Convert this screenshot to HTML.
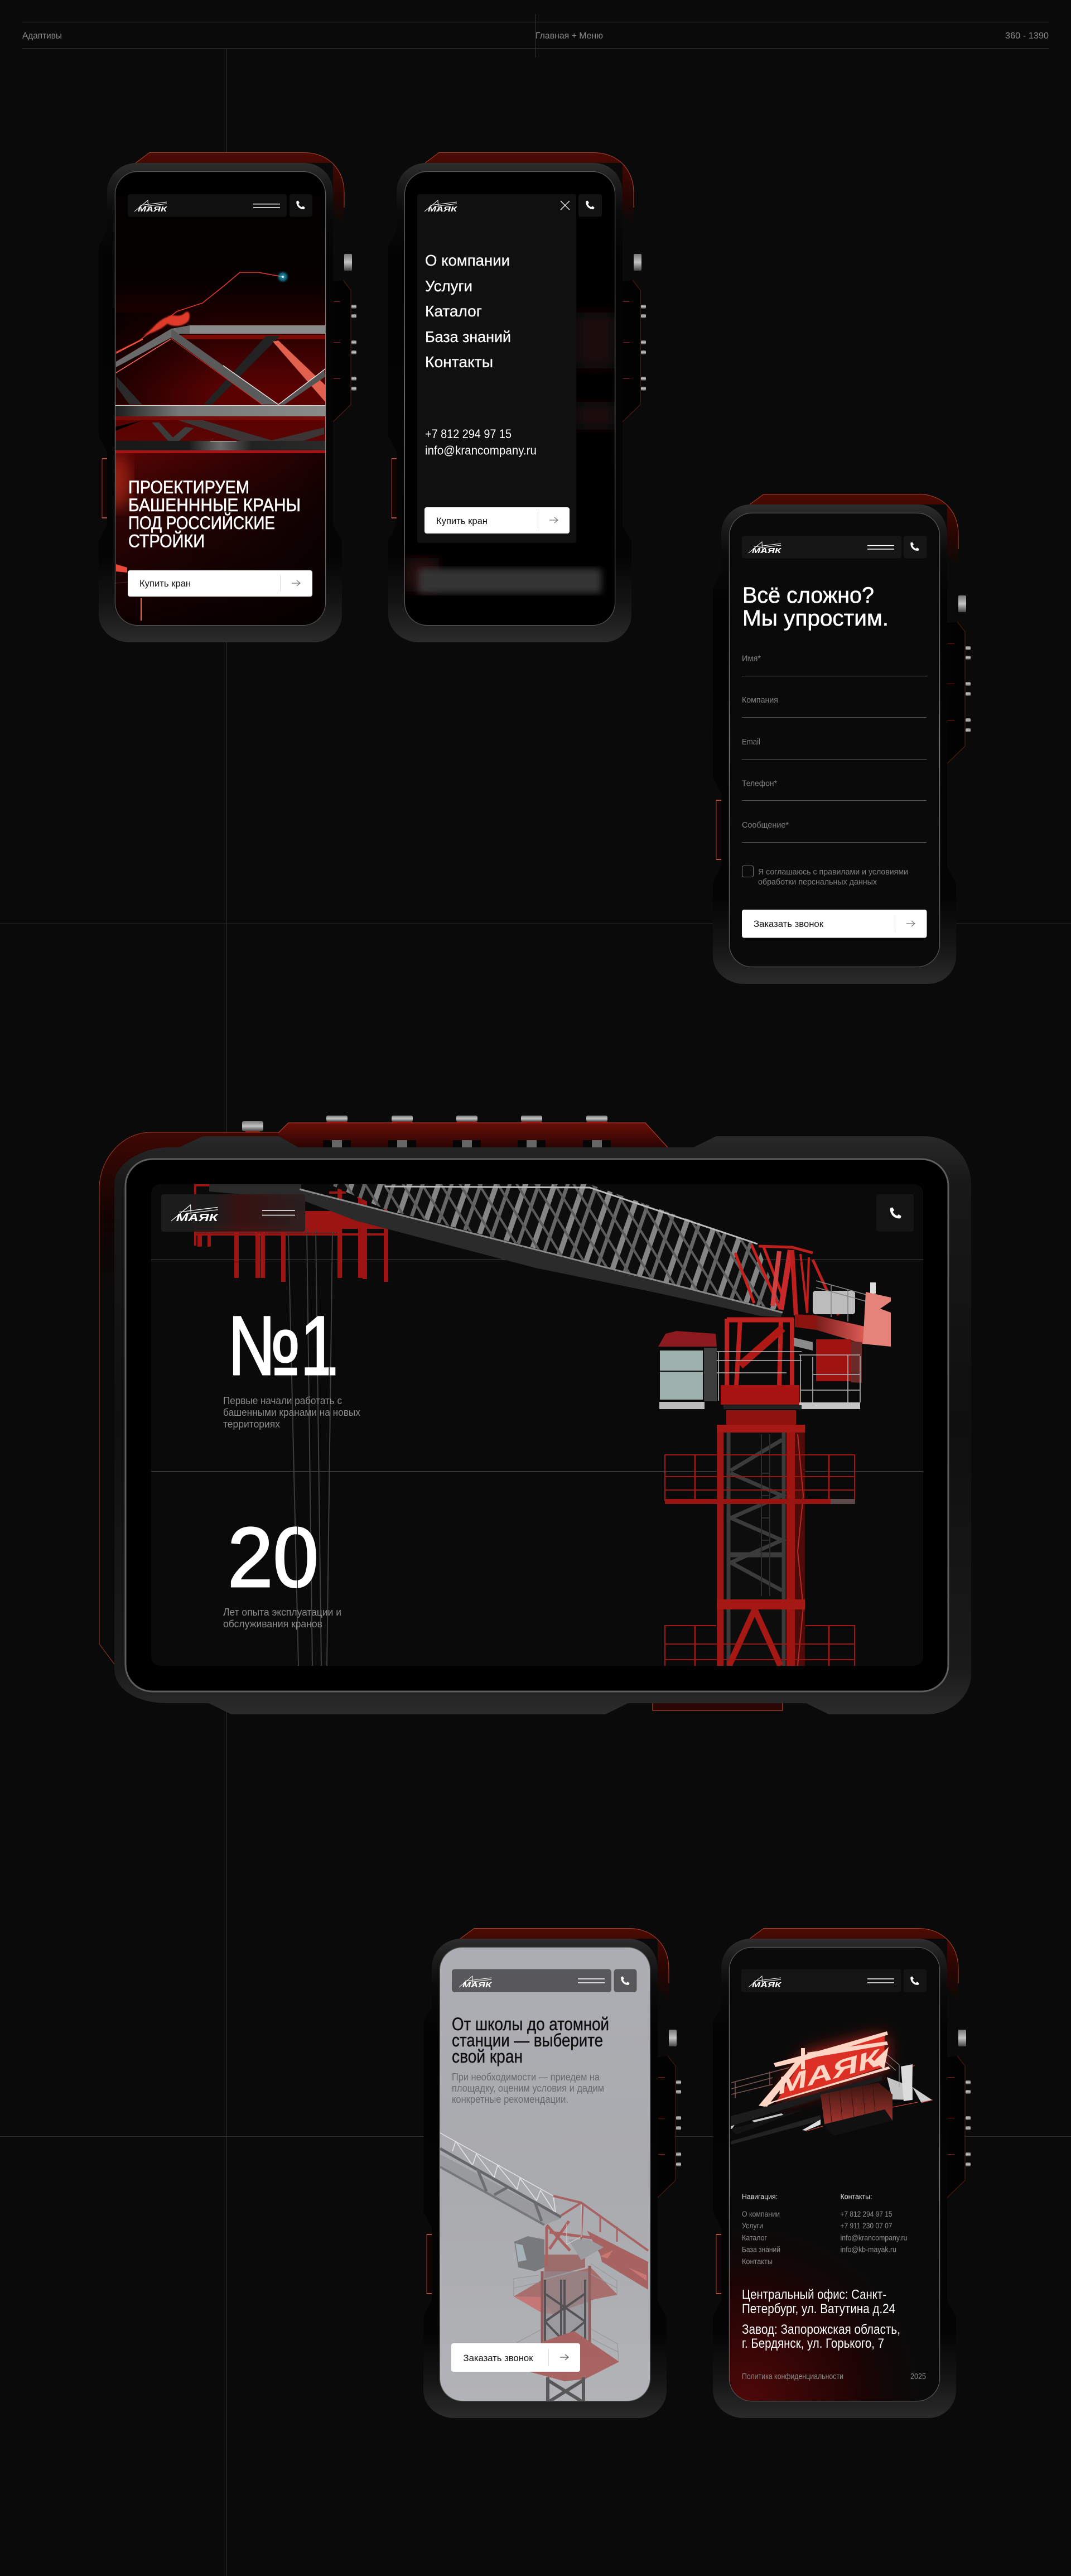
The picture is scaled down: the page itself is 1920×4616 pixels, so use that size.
<!DOCTYPE html>
<html lang="ru"><head><meta charset="utf-8"><title>Адаптивы</title>
<style>html,body{margin:0;padding:0;background:#0a0a0a}svg{display:block}text{font-family:"Liberation Sans","Noto Sans CJK SC",sans-serif}</style></head>
<body>
<svg xmlns="http://www.w3.org/2000/svg" width="1920" height="4616" viewBox="0 0 1920 4616">
<defs>
<linearGradient id="body" x1="0" y1="0" x2="0" y2="1"><stop offset="0" stop-color="#2e2e2e"/><stop offset=".035" stop-color="#1e1e1e"/><stop offset=".1" stop-color="#0a0a0a"/><stop offset=".2" stop-color="#030303"/><stop offset=".82" stop-color="#040404"/><stop offset=".92" stop-color="#151515"/><stop offset="1" stop-color="#2b2b2b"/></linearGradient>
<linearGradient id="rim" x1="0" y1="0" x2="0" y2="1"><stop offset="0" stop-color="#555"/><stop offset=".5" stop-color="#8a8a8a"/><stop offset="1" stop-color="#555"/></linearGradient>
<linearGradient id="back" x1="0" y1="0" x2="0" y2="1"><stop offset="0" stop-color="#4c0b02"/><stop offset=".6" stop-color="#250502"/><stop offset="1" stop-color="#0a0a0a"/></linearGradient>
<linearGradient id="silver" x1="0" y1="0" x2="0" y2="1"><stop offset="0" stop-color="#777"/><stop offset=".5" stop-color="#c4c4c4"/><stop offset="1" stop-color="#444"/></linearGradient>
<linearGradient id="tbody" x1="0" y1="0" x2="0" y2="1"><stop offset="0" stop-color="#292929"/><stop offset=".08" stop-color="#181818"/><stop offset=".5" stop-color="#0f0f0f"/><stop offset=".92" stop-color="#1a1a1a"/><stop offset="1" stop-color="#2c2c2c"/></linearGradient>
<linearGradient id="twing" x1="0" y1="0" x2="0" y2="1"><stop offset="0" stop-color="#3e0803"/><stop offset=".16" stop-color="#120302"/><stop offset=".3" stop-color="#090909"/><stop offset="1" stop-color="#090909"/></linearGradient>
<linearGradient id="tband" x1="0" y1="0" x2="0" y2="1"><stop offset="0" stop-color="#6a0e08"/><stop offset="1" stop-color="#2a0503"/></linearGradient>
<linearGradient id="p1bg" gradientUnits="userSpaceOnUse" x1="0" y1="308" x2="0" y2="1120"><stop offset="0" stop-color="#000"/><stop offset=".24" stop-color="#060000"/><stop offset=".31" stop-color="#1a0000"/><stop offset=".48" stop-color="#5a0202"/><stop offset=".62" stop-color="#5a0404"/><stop offset=".74" stop-color="#300404"/><stop offset="1" stop-color="#0e0000"/></linearGradient>
<linearGradient id="hdark" x1="0" y1="0" x2="1" y2="0"><stop offset="0" stop-color="#000" stop-opacity=".65"/><stop offset=".5" stop-color="#000" stop-opacity="0"/></linearGradient>
<linearGradient id="hdark2" x1="0" y1="0" x2="1" y2="0"><stop offset="0" stop-color="#000" stop-opacity="0"/><stop offset="1" stop-color="#000" stop-opacity=".7"/></linearGradient>
<linearGradient id="p5bg" x1="0" y1="0" x2="0" y2="1"><stop offset="0" stop-color="#adaeb3"/><stop offset=".5" stop-color="#a9aaae"/><stop offset="1" stop-color="#b2b3b6"/></linearGradient>
<linearGradient id="chord" x1="0" y1="0" x2="1" y2="0"><stop offset="0" stop-color="#1e1e1e"/><stop offset=".3" stop-color="#777"/><stop offset="1" stop-color="#8a8a8a"/></linearGradient>
<linearGradient id="strip" x1="0" y1="0" x2="1" y2="0"><stop offset="0" stop-color="#191919"/><stop offset=".35" stop-color="#1a1a1a"/><stop offset=".5" stop-color="#6a6a6a"/><stop offset=".65" stop-color="#222"/><stop offset="1" stop-color="#2a2a2a"/></linearGradient>
<linearGradient id="navt" x1="0" y1="0" x2="1" y2="0"><stop offset="0" stop-color="#1d1d1d"/><stop offset=".35" stop-color="#1d1d1d"/><stop offset=".55" stop-color="#3a1212"/><stop offset="1" stop-color="#2a2020"/></linearGradient>
<linearGradient id="blk" x1="0" y1="0" x2="0" y2="1"><stop offset="0" stop-color="#3a1410"/><stop offset="1" stop-color="#a4362e"/></linearGradient>
<linearGradient id="jib" x1="0" y1="0" x2="1" y2="0"><stop offset="0" stop-color="#7a1c1a"/><stop offset="1" stop-color="#de5c56"/></linearGradient>
<radialGradient id="p6red" gradientUnits="userSpaceOnUse" cx="1340" cy="4300" r="340"><stop offset="0" stop-color="#4e0808"/><stop offset=".6" stop-color="#1e0404"/><stop offset="1" stop-color="#0a0a0a" stop-opacity="0"/></radialGradient>
<filter id="b1"><feGaussianBlur stdDeviation="1"/></filter>
<filter id="b2"><feGaussianBlur stdDeviation="2"/></filter>
<filter id="b6"><feGaussianBlur stdDeviation="6"/></filter>
<filter id="b14"><feGaussianBlur stdDeviation="14"/></filter>
<filter id="b22" x="-30%" y="-30%" width="160%" height="160%"><feGaussianBlur stdDeviation="16"/></filter>
<pattern id="lat" width="52" height="300" patternUnits="userSpaceOnUse" patternTransform="skewX(-19)">
<rect width="52" height="300" fill="#0d0d0d"/><rect x="4" width="10" height="300" fill="#858585"/><rect x="29" width="7" height="300" fill="#666"/></pattern>
<pattern id="lat2" width="34" height="300" patternUnits="userSpaceOnUse" patternTransform="skewX(32)"><rect x="6" width="5" height="300" fill="#5c5c5c"/></pattern>
<clipPath id="c1"><rect x="207" y="308" width="376" height="812" rx="40"/></clipPath>
<clipPath id="c2"><rect x="726" y="308" width="376" height="812" rx="40"/></clipPath>
<clipPath id="c5"><rect x="789" y="3490" width="376" height="812" rx="40"/></clipPath>
<clipPath id="c6"><rect x="1308" y="3490" width="376" height="812" rx="40"/></clipPath>
<clipPath id="ct"><rect x="271" y="2122" width="1384" height="863" rx="16"/></clipPath>
<path id="ph" d="M-6.5-7.5 -3.5-8.5-1-4.5-3-2.5C-2 0 0 2 3 3.2L5 1.2 8.6 3.6 7.6 6.6C-.5 8.2-8 .5-6.5-7.5Z" fill="#fff"/>
<g id="frame">
<path d="M243 292 268 273.5H545C590 273.5 617 305 617 345V406L597 382V292Z" fill="url(#back)"/>
<path d="M243 292 268 273.5H545C590 273.5 617 305 617 345V372" fill="none" stroke="#b2452a" stroke-width="1"/>
<rect x="183" y="822" width="10" height="106" fill="#120402" stroke="#a83a26" stroke-width="1"/>
<path d="M183 822H192M183 928H192" stroke="#e86a50" stroke-width="1.5"/>
<path d="M597 505 615 502 629 520V725L597 756Z" fill="#020202"/>
<path d="M615 502 629 520V725L597 756" fill="none" stroke="#5a2012" stroke-width="1"/>
<rect x="617" y="455" width="14" height="30" rx="2" fill="url(#silver)"/>
<g fill="url(#silver)"><rect x="630" y="546" width="9" height="7" rx="2"/><rect x="630" y="563" width="9" height="7" rx="2"/><rect x="630" y="610" width="9" height="7" rx="2"/><rect x="630" y="628" width="9" height="7" rx="2"/><rect x="630" y="675" width="9" height="7" rx="2"/><rect x="630" y="693" width="9" height="7" rx="2"/></g>
<g fill="#8a1a10"><rect x="598" y="540" width="12" height="1"/><rect x="598" y="613" width="12" height="1"/><rect x="598" y="678" width="12" height="1"/></g>
<path d="M192 345C192 312 218 292 245 292H545C575 292 597 315 597 345V942L613 969V1101C613 1130 590 1151 563 1151H233C203 1151 177 1130 177 1101V969L192 940V810L177 781V441L192 414Z" fill="url(#body)"/>
<rect x="207" y="308" width="376" height="812" rx="40" fill="#000" stroke="url(#rim)" stroke-width="2.4"/>
</g>
</defs>

<rect width="1920" height="4616" fill="#0a0a0a"/>
<!-- guides -->
<g stroke="#343434" stroke-width="1">
<line x1="405.5" y1="88" x2="405.5" y2="4616"/>
<line x1="0" y1="1655.5" x2="1920" y2="1655.5"/>
<line x1="0" y1="3828.5" x2="1920" y2="3828.5"/>
<line x1="960.5" y1="25" x2="960.5" y2="103"/>
</g>
<g stroke="#444" stroke-width="1"><line x1="40" y1="39.5" x2="1880" y2="39.5"/><line x1="40" y1="87.5" x2="1880" y2="87.5"/></g>
<g fill="#8a8a8a" font-size="16">
<text x="40" y="69" textLength="71" lengthAdjust="spacingAndGlyphs">Адаптивы</text>
<text x="960" y="69" textLength="121" lengthAdjust="spacingAndGlyphs">Главная + Меню</text>
<text x="1802" y="69" textLength="78" lengthAdjust="spacingAndGlyphs">360 - 1390</text>
</g>

<!-- PHONE 1 -->
<use href="#frame"/>
<g clip-path="url(#c1)">
<rect x="207" y="308" width="376" height="812" fill="url(#p1bg)"/>
<rect x="207" y="560" width="376" height="165" fill="url(#hdark)"/>
<rect x="207" y="812" width="376" height="308" fill="url(#hdark2)"/>
<ellipse cx="207" cy="865" rx="28" ry="50" fill="#c8301c" opacity=".6" filter="url(#b14)"/>
<polyline points="208,631 250,610 283,585 317,558 363,543 403,511 430,488 463,488 507,496" fill="none" stroke="#e8382c" stroke-width="1.5"/>
<path d="M256 602C275 590 280 575 300 568 310 560 320 572 332 560 340 555 342 566 338 575 328 586 310 586 300 580 290 590 270 598 256 602Z" fill="#e03a2c" filter="url(#b1)"/>
<circle cx="507" cy="496" r="8" fill="#1fb6e0" opacity=".7" filter="url(#b2)"/><circle cx="507" cy="496" r="2" fill="#fff"/>
<rect x="307" y="600" width="276" height="8" fill="#7a0c08"/>
<polygon points="477,602 502,602 380,725 365,725" fill="#222"/>
<polygon points="209,675 209,693 232,725 255,725" fill="#2a2a2a"/>
<polygon points="489,612 499,610 583,690 583,720" fill="#e2604e"/>
<rect x="340" y="583" width="243" height="15" fill="#8a8a8a"/>
<polygon points="208,648 307,589 340,583 340,598 322,598 307,605 208,658" fill="#6a6a6a"/>
<line x1="208" y1="633" x2="256" y2="608" stroke="#ff5a4a" stroke-width="1.6"/>
<line x1="208" y1="668" x2="307" y2="607" stroke="#ff6a58" stroke-width="1.6"/>
<polygon points="307,589 499,725 470,725 307,605" fill="#5a5a5a"/>
<line x1="400" y1="655" x2="499" y2="725" stroke="#e4e4e4" stroke-width="1.4"/>
<line x1="307" y1="607" x2="470" y2="725" stroke="#d8392a" stroke-width="1"/>
<polygon points="499,725 581,662 583,675 510,725" fill="#555"/>
<line x1="499" y1="725" x2="583" y2="661" stroke="#eee" stroke-width="1.4"/>
<rect x="207" y="726" width="376" height="20" fill="url(#chord)"/><line x1="207" y1="726.5" x2="583" y2="726.5" stroke="#ddd"/>
<rect x="207" y="746" width="376" height="7" fill="#7a0c08"/>
<polygon points="207,765 256,753 207,772" fill="#000"/>
<polygon points="272,757 285,757 310,784 332,765 347,767 310,800" fill="#3c3c3c"/>
<polygon points="320,753 364,753 487,789 581,766 581,778 507,802 467,802" fill="#3b3535"/>
<rect x="207" y="790" width="376" height="17" fill="url(#strip)"/>
<line x1="377" y1="790.5" x2="424" y2="790.5" stroke="#ddd"/>
<rect x="207" y="807" width="376" height="5" fill="#a81212"/>
<polygon points="208,1011 228,1017 228,1026 208,1024" fill="#e8483a"/>
<line x1="253" y1="1072" x2="253" y2="1112" stroke="#e8685a" stroke-width="2"/>
<line x1="207" y1="1045" x2="240" y2="1042" stroke="#5a2020"/>
</g>
<rect x="229" y="348" width="285" height="40.5" rx="4" fill="#101010"/><rect x="519" y="348" width="41" height="40.5" rx="4" fill="#101010"/>
<g transform="translate(241 359)"><path d="M0 20 24 0 25 20M10 9 58 3M18 11 58 6" fill="none" stroke="#fff" stroke-width="1"/><text x="6" y="20" font-size="13" font-weight="700" font-style="italic" fill="#fff" textLength="52" lengthAdjust="spacingAndGlyphs">МАЯК</text></g>
<path d="M454 365.6H502M454 372H502" stroke="#fff" stroke-width="1.5"/><use href="#ph" x="538" y="368"/>
<g fill="#fff" font-size="32" stroke="#fff" stroke-width=".6">
<text x="230" y="884" textLength="217" lengthAdjust="spacingAndGlyphs">ПРОЕКТИРУЕМ</text>
<text x="230" y="916" textLength="309" lengthAdjust="spacingAndGlyphs">БАШЕНННЫЕ КРАНЫ</text>
<text x="230" y="948" textLength="263" lengthAdjust="spacingAndGlyphs">ПОД РОССИЙСКИЕ</text>
<text x="230" y="980.5" textLength="137" lengthAdjust="spacingAndGlyphs">СТРОЙКИ</text>
</g>
<rect x="229" y="1022" width="331" height="47" rx="4" fill="#fff"/>
<text x="250" y="1051" font-size="17" fill="#111" textLength="92" lengthAdjust="spacingAndGlyphs">Купить кран</text>
<line x1="502.5" y1="1030" x2="502.5" y2="1060" stroke="#ddd"/><path d="M523 1045H538M532 1040 538 1045 532 1050" fill="none" stroke="#777" stroke-width="1.2"/>

<!-- PHONE 2 -->
<use href="#frame" x="519"/>
<g clip-path="url(#c2)">
<rect x="726" y="308" width="376" height="812" fill="#000"/>
<rect x="1033" y="560" width="70" height="100" fill="#1a0b0b" filter="url(#b14)"/>
<rect x="1033" y="720" width="70" height="50" fill="#1c1010" filter="url(#b14)"/>
<rect x="727" y="1000" width="60" height="60" fill="#2a0a08" filter="url(#b14)"/>
<rect x="750" y="1019" width="328" height="44" rx="4" fill="#363636" filter="url(#b6)"/>
<rect x="748" y="348" width="285" height="625" rx="4" fill="#111010"/>
</g>
<rect x="1037" y="348" width="42" height="40.5" rx="4" fill="#131313"/>
<g transform="translate(761 359)"><path d="M0 20 24 0 25 20M10 9 58 3M18 11 58 6" fill="none" stroke="#fff" stroke-width="1"/><text x="6" y="20" font-size="13" font-weight="700" font-style="italic" fill="#fff" textLength="52" lengthAdjust="spacingAndGlyphs">МАЯК</text></g>
<path d="M1005 360 1021 376M1021 360 1005 376" stroke="#fff" stroke-width="1.3"/><use href="#ph" x="1057" y="368"/>
<g fill="#fff" font-size="28" stroke="#fff" stroke-width=".3">
<text x="762" y="476" textLength="152" lengthAdjust="spacingAndGlyphs">О компании</text>
<text x="762" y="522" textLength="85" lengthAdjust="spacingAndGlyphs">Услуги</text>
<text x="762" y="567" textLength="102" lengthAdjust="spacingAndGlyphs">Каталог</text>
<text x="762" y="613" textLength="154" lengthAdjust="spacingAndGlyphs">База знаний</text>
<text x="762" y="658" textLength="122" lengthAdjust="spacingAndGlyphs">Контакты</text>
</g>
<g fill="#fff" font-size="22">
<text x="762" y="785" textLength="155" lengthAdjust="spacingAndGlyphs">+7 812 294 97 15</text>
<text x="762" y="814.5" textLength="200" lengthAdjust="spacingAndGlyphs">info@krancompany.ru</text>
</g>
<rect x="761" y="909" width="260" height="47" rx="4" fill="#fff"/>
<text x="782" y="939" font-size="17" fill="#111" textLength="92" lengthAdjust="spacingAndGlyphs">Купить кран</text>
<line x1="964.5" y1="917" x2="964.5" y2="947" stroke="#ddd"/><path d="M985 932H1000M994 927 1000 932 994 937" fill="none" stroke="#777" stroke-width="1.2"/>

<!-- PHONE 3 -->
<use href="#frame" x="1101" y="612"/>
<rect x="1308" y="920" width="376" height="812" rx="40" fill="#0a0a0a"/>
<rect x="1330" y="960" width="286" height="40.5" rx="4" fill="#161616"/><rect x="1620" y="960" width="41.5" height="40.5" rx="4" fill="#161616"/>
<g transform="translate(1342 971)"><path d="M0 20 24 0 25 20M10 9 58 3M18 11 58 6" fill="none" stroke="#fff" stroke-width="1"/><text x="6" y="20" font-size="13" font-weight="700" font-style="italic" fill="#fff" textLength="52" lengthAdjust="spacingAndGlyphs">МАЯК</text></g>
<path d="M1555 977.6H1603M1555 984H1603" stroke="#fff" stroke-width="1.5"/><use href="#ph" x="1639" y="980"/>
<g fill="#fff" font-size="40" stroke="#fff" stroke-width=".6">
<text x="1331" y="1080" textLength="236" lengthAdjust="spacingAndGlyphs">Всё сложно?</text>
<text x="1331" y="1121" textLength="262" lengthAdjust="spacingAndGlyphs">Мы упростим.</text>
</g>
<g fill="#808080" font-size="15">
<text x="1330" y="1184.5" textLength="34" lengthAdjust="spacingAndGlyphs">Имя*</text>
<text x="1330" y="1259" textLength="65" lengthAdjust="spacingAndGlyphs">Компания</text>
<text x="1330" y="1334" textLength="33" lengthAdjust="spacingAndGlyphs">Email</text>
<text x="1330" y="1408.5" textLength="63" lengthAdjust="spacingAndGlyphs">Телефон*</text>
<text x="1330" y="1483" textLength="84" lengthAdjust="spacingAndGlyphs">Сообщение*</text>
<text x="1359" y="1567" textLength="269" lengthAdjust="spacingAndGlyphs">Я соглашаюсь с правилами и условиями</text>
<text x="1359" y="1585" textLength="213" lengthAdjust="spacingAndGlyphs">обработки перснальных данных</text>
</g>
<g stroke="#555"><line x1="1330" y1="1211.5" x2="1661.5" y2="1211.5"/><line x1="1330" y1="1285.5" x2="1661.5" y2="1285.5"/><line x1="1330" y1="1360.5" x2="1661.5" y2="1360.5"/><line x1="1330" y1="1434.5" x2="1661.5" y2="1434.5"/><line x1="1330" y1="1509.5" x2="1661.5" y2="1509.5"/></g>
<rect x="1330.5" y="1551.5" width="20" height="20" rx="3" fill="none" stroke="#777"/>
<rect x="1330" y="1630" width="331.5" height="50.5" rx="4" fill="#fff"/>
<text x="1351" y="1661" font-size="17" fill="#111" textLength="125" lengthAdjust="spacingAndGlyphs">Заказать звонок</text>
<line x1="1604.5" y1="1640" x2="1604.5" y2="1671" stroke="#ddd"/><path d="M1625 1655H1640M1634 1650 1640 1655 1634 1660" fill="none" stroke="#777" stroke-width="1.2"/>

<!-- TABLET -->
<path d="M205 2982 178 2946V2131C178 2075 220 2029 270 2029H499V2140H205Z" fill="url(#twing)"/>
<path d="M205 2982 178 2946V2131C178 2075 220 2029 270 2029H499" fill="none" stroke="#a83a26" stroke-width="1"/>
<polygon points="499,2030 517,2012 1157,2012 1197,2056 499,2056" fill="url(#tband)"/>
<path d="M499 2030 517 2012H1157L1197 2056" fill="none" stroke="#c2452c"/>
<g fill="url(#silver)">
<rect x="434" y="2009" width="38" height="18" rx="3"/>
<rect x="585" y="1999" width="38" height="11" rx="3"/><rect x="702" y="1999" width="38" height="11" rx="3"/><rect x="818" y="1999" width="38" height="11" rx="3"/><rect x="934" y="1999" width="38" height="11" rx="3"/><rect x="1051" y="1999" width="38" height="11" rx="3"/>
</g>
<g fill="#a01a12"><rect x="585" y="2010" width="38" height="2"/><rect x="702" y="2010" width="38" height="2"/><rect x="818" y="2010" width="38" height="2"/><rect x="934" y="2010" width="38" height="2"/><rect x="1051" y="2010" width="38" height="2"/><rect x="440" y="2027" width="26" height="2"/></g>
<g fill="#050505"><rect x="579" y="2043" width="50" height="13"/><rect x="696" y="2043" width="50" height="13"/><rect x="812" y="2043" width="50" height="13"/><rect x="928" y="2043" width="50" height="13"/><rect x="1045" y="2043" width="50" height="13"/></g>
<g fill="#666"><rect x="595" y="2043" width="18" height="13"/><rect x="712" y="2043" width="18" height="13"/><rect x="828" y="2043" width="18" height="13"/><rect x="944" y="2043" width="18" height="13"/><rect x="1061" y="2043" width="18" height="13"/></g>
<rect x="1170" y="3050" width="233" height="15" fill="#2a0704" stroke="#d0543a"/>
<path d="M205 2122C205 2085 255 2056 303 2056H321L364 2036H500L535 2056H1243L1284 2036H1657C1705 2036 1741 2075 1741 2122V3000C1741 3040 1705 3072 1660 3072H1486L1445 3052H1126L1085 3072H415L374 3052H300C250 3052 205 3030 205 2990Z" fill="url(#tbody)"/>
<rect x="225" y="2077" width="1475" height="954" rx="48" fill="#000" stroke="#5e5e5e" stroke-width="3"/>
<rect x="271" y="2122" width="1384" height="863" rx="16" fill="#0a0a0a"/>
<line x1="271" y1="2257.5" x2="1655" y2="2257.5" stroke="#4a4a4a"/><line x1="271" y1="2636.5" x2="1655" y2="2636.5" stroke="#4a4a4a"/>
<g clip-path="url(#ct)">
<!-- rails at boom root -->
<g fill="#9c1512">
<rect x="348" y="2122" width="4" height="110"/><rect x="348" y="2122" width="120" height="4"/>
<rect x="420" y="2207" width="8" height="83"/><rect x="458" y="2207" width="8" height="83"/><rect x="467" y="2207" width="8" height="83"/><rect x="504" y="2207" width="8" height="90"/>
<rect x="605" y="2130" width="8" height="160"/><rect x="642" y="2140" width="8" height="150"/><rect x="650" y="2145" width="8" height="147"/><rect x="688" y="2155" width="8" height="142"/>
<rect x="590" y="2135" width="30" height="4"/><rect x="640" y="2143" width="50" height="4"/>
<rect x="350" y="2195" width="260" height="14"/><rect x="520" y="2170" width="170" height="32"/><rect x="350" y="2210" width="345" height="4"/>
<rect x="354" y="2210" width="8" height="24"/><rect x="372" y="2210" width="6" height="24"/>
</g>
<polygon points="375,2122 540,2122 540,2150 375,2135" fill="#2a2a2a"/>
<!-- boom -->
<polygon points="590,2122 1057,2122 1358,2229 1404,2352 690,2167" fill="url(#lat)"/>
<polygon points="590,2122 1057,2122 1358,2229 1404,2352 690,2167" fill="url(#lat2)"/>
<g stroke="#c8201a" stroke-width="5"><line x1="1347" y1="2230" x2="1397" y2="2343"/><line x1="1318" y1="2245" x2="1352" y2="2335"/><line x1="1368" y1="2232" x2="1402" y2="2320"/></g>
<polygon points="537,2131 1403,2350 1400,2360 1363,2358 1170,2315 960,2272 640,2188 540,2150" fill="#2b2b2b"/>
<line x1="537" y1="2131" x2="1403" y2="2352" stroke="#8a8a8a" stroke-width="3"/>
<polyline points="690,2126 1057,2128 1358,2229" fill="none" stroke="#bcbcbc" stroke-width="3"/>
<!-- head -->
<g fill="none" stroke="#bd1f1c">
<path d="M1360 2233 1420 2235 1457 2245" stroke-width="5"/>
<path d="M1397 2242 1385 2340" stroke="#d04040" stroke-width="8"/>
<path d="M1417 2240 1400 2347" stroke="#c8282a" stroke-width="10"/>
<path d="M1420 2240 1427 2357" stroke-width="8"/>
<path d="M1435 2247 1447 2353M1450 2253 1447 2350" stroke-width="4"/>
<path d="M1457 2257 1503 2357" stroke-width="5"/>
<path d="M1303 2363V2483M1327 2363 1320 2483M1400 2363 1397 2483M1420 2363V2483" stroke-width="8"/>
<path d="M1303 2365H1423" stroke-width="9"/>
<path d="M1327 2447 1403 2380" stroke="#b01814" stroke-width="14"/>
</g>
<rect x="1457" y="2313" width="76" height="42" rx="5" fill="#bcbcbc"/>
<g stroke="#888" stroke-width="1.6" fill="none"><path d="M1463 2295 1553 2320M1463 2307 1553 2332M1490 2303V2360M1520 2310V2368"/></g>
<polygon points="1463,2357 1550,2377 1547,2408 1463,2383" fill="url(#jib)"/>
<polygon points="1425,2355 1463,2357 1463,2383 1425,2378" fill="#8c1410"/>
<rect x="1463" y="2400" width="62" height="75" fill="#a01210"/>
<polygon points="1525,2403 1545,2405 1545,2478 1525,2477" fill="#6a2a28"/>
<polygon points="1423,2397 1457,2405 1457,2420 1423,2412" fill="#8a8a8a"/>
<rect x="1560" y="2298" width="10" height="20" fill="#ddd"/>
<polygon points="1552,2315 1597,2325 1597,2332 1578,2345 1597,2352 1597,2413 1547,2408" fill="#e4837a"/>
<g stroke="#a4a4a4" stroke-width="1.8" fill="none"><path d="M1280 2422H1437M1280 2438H1437M1280 2460H1410M1288 2422V2510M1433 2428H1542M1457 2463H1542M1435 2491H1542M1435 2428V2513M1457 2432V2513M1520 2428V2513M1542 2430V2513"/></g>
<rect x="1433" y="2513" width="109" height="12" fill="#c4c4c4"/>
<!-- cab -->
<polygon points="1180,2413 1193,2390 1213,2385 1283,2390 1285,2413" fill="#8c1a1e"/>
<rect x="1180" y="2413" width="105" height="100" fill="#0a0a0a"/>
<rect x="1183" y="2420" width="77" height="88" fill="#9db0ac"/>
<line x1="1183" y1="2457" x2="1260" y2="2457" stroke="#111" stroke-width="2"/>
<rect x="1262" y="2415" width="23" height="96" fill="#3c3c3c"/>
<rect x="1182" y="2512" width="81" height="13" fill="#bbb"/>
<!-- slew -->
<rect x="1292" y="2482" width="141" height="35" fill="#a81412"/>
<rect x="1297" y="2518" width="140" height="7" fill="#222"/>
<rect x="1302" y="2527" width="125" height="26" fill="#8f1210"/>
<!-- tower -->
<rect x="1297" y="2565" width="115" height="420" fill="#0d0d0d"/>
<g fill="none" stroke="#3b3b3b" stroke-width="7">
<path d="M1306 2565V2985M1405 2565V2985M1310 2635 1402 2580M1310 2640 1402 2680 1310 2720 1402 2760 1310 2800 1402 2850M1310 2800 1402 2760"/>
<path d="M1305 2786H1405" stroke-width="9"/>
</g>
<path d="M1365 2570V2860M1380 2570V2860M1365 2640H1380M1365 2680H1380M1365 2720H1380M1365 2760H1380" stroke="#2b2b2b" stroke-width="2"/>
<rect x="1285" y="2553" width="12" height="432" fill="#9d1612"/>
<rect x="1410" y="2553" width="15" height="432" fill="#9d1612"/>
<rect x="1425" y="2555" width="18" height="430" fill="#4c0c0a"/>
<path d="M1430 2570 1440 2680 1430 2780 1440 2880 1430 2985" stroke="#b82a22" stroke-width="2" fill="none"/>
<rect x="1285" y="2553" width="158" height="14" fill="#a51813"/>
<rect x="1285" y="2866" width="158" height="18" fill="#a51813"/>
<path d="M1307 2985 1353 2884 1399 2985" stroke="#a51813" stroke-width="11" fill="none"/>
<!-- platforms -->
<g fill="none" stroke="#9d1612" stroke-width="2"><path d="M1192 2690V2607H1532V2690M1192 2646H1532M1192 2670H1532"/><path d="M1246 2607V2690M1486 2607V2690" stroke-width="3"/>
<path d="M1192 2985V2913H1284M1444 2913H1532V2985M1192 2946H1532M1192 2974H1532"/><path d="M1246 2913V2985M1486 2913V2985" stroke-width="3"/></g>
<rect x="1192" y="2686" width="297" height="9" fill="#981511"/><rect x="1489" y="2686" width="44" height="9" fill="#5d4a4a"/>
<!-- cables -->
<g stroke="#3d3d3d" stroke-width="2"><line x1="517" y1="2210" x2="535" y2="2985"/><line x1="550" y1="2203" x2="560" y2="2985"/><line x1="566" y1="2203" x2="576" y2="2985"/><line x1="596" y1="2207" x2="586" y2="2985"/></g>
</g>
<rect x="289" y="2140" width="258" height="67" rx="4" fill="url(#navt)" opacity=".95"/>
<rect x="1571" y="2140" width="67" height="67" rx="4" fill="#141414"/>
<g transform="translate(307 2159) scale(1.44)"><path d="M0 20 24 0 25 20M10 9 58 3M18 11 58 6" fill="none" stroke="#fff" stroke-width=".8"/><text x="6" y="20" font-size="13" font-weight="700" font-style="italic" fill="#fff" textLength="52" lengthAdjust="spacingAndGlyphs">МАЯК</text></g>
<path d="M470 2169H529M470 2177.5H529" stroke="#fff" stroke-width="1.6"/>
<g transform="translate(1604.5 2174.5) scale(1.3)"><use href="#ph"/></g>
<g fill="#fff" stroke="#fff" stroke-width="3">
<text x="408" y="2463" font-size="150" textLength="198" lengthAdjust="spacingAndGlyphs">№1</text>
<text x="408" y="2843" font-size="152" textLength="163" lengthAdjust="spacingAndGlyphs">20</text>
</g>
<g stroke="#0a0a0a" stroke-width="1.5"><line x1="591" y1="2350" x2="590" y2="2470"/><line x1="533" y1="2725" x2="533" y2="2850"/></g>
<g fill="#8c8c8c" font-size="18">
<text x="400" y="2516" textLength="213" lengthAdjust="spacingAndGlyphs">Первые начали работать с</text>
<text x="400" y="2537" textLength="246" lengthAdjust="spacingAndGlyphs">башенными кранами на новых</text>
<text x="400" y="2558" textLength="102" lengthAdjust="spacingAndGlyphs">территориях</text>
<text x="400" y="2895" textLength="212" lengthAdjust="spacingAndGlyphs">Лет опыта эксплуатации и</text>
<text x="400" y="2916" textLength="178" lengthAdjust="spacingAndGlyphs">обслуживания кранов</text>
</g>

<!-- PHONE 5 -->
<use href="#frame" x="582" y="3182"/>
<g clip-path="url(#c5)">
<rect x="789" y="3490" width="376" height="812" fill="url(#p5bg)"/>
<g opacity=".8">
<polygon points="789,3860 1006,3975 976,3987 789,3883" fill="#96979b"/>
<g fill="none" stroke-linejoin="round">
<path d="M789 3822 992 3935" stroke="#f0f0f2" stroke-width="1.5"/>
<path d="M811 3855 817 3837 847 3880 854 3860 886 3902 892 3880 927 3923 932 3903 962 3943 969 3925 996 3967 992 3935" stroke="#f0f0f2" stroke-width="1.6"/>
<path d="M789 3850 1006 3973" stroke="#55565a" stroke-width="5"/>
<path d="M789 3883 976 3987" stroke="#6a6b6f" stroke-width="4"/>
<path d="M856 3887 872 3927M886 3933 909 3920M959 3947 971 3980" stroke="#5e5f63" stroke-width="5"/>
</g>
<polygon points="976,4040 1049,4040 1049,4063 976,4083" fill="#9a5e5c"/>
<polygon points="1052,3997 1162,4053 1162,4103 1079,4053 1076,4040" fill="#a5514f"/>
<polygon points="1076,4043 1099,4032 1089,4047" fill="#d06a64"/>
<polygon points="1126,4063 1159,4077 1159,4087" fill="#d06a64"/>
<g fill="none" stroke="#a8504e">
<path d="M992 3935 1042 3947 1162 4033" stroke-width="4"/>
<path d="M1006 3970 1042 3947" stroke-width="4"/>
<path d="M1045 3950 1042 4013M1076 3973V4000M1106 3990V4017" stroke-width="3"/>
<path d="M980 3987 1022 4033M1020 3980 985 4030M985 4000 1060 4010M980 3990V4060" stroke-width="5"/>
</g>
<polygon points="1019,4013 1056,4013 1082,4027 1042,4050" fill="#98999d"/>
<path d="M1016 4022 1042 4008V3950M1016 4022V3985" stroke="#e2e2e4" fill="none"/>
<polygon points="922,4017 946,4007 976,4013 976,4063 959,4070 929,4063" fill="#6b6d71"/>
<polygon points="924,4020 937,4023 944,4050 929,4053" fill="#a4b4bb"/>
<polygon points="921,4115 969,4087 1059,4063 1107,4112 1066,4120 992,4147 969,4143" fill="#a5605e"/>
<polygon points="921,4115 969,4116 992,4147 969,4143" fill="#cb6a66"/>
<rect x="972" y="4070" width="85" height="130" fill="#87868a" opacity=".6"/>
<g fill="none" stroke="#3f3c3e" stroke-width="4"><path d="M977 4085V4195M1006 4085V4195M1012 4085V4195M1049 4085V4195M977 4110 1049 4160M1049 4110 977 4160M977 4160 1006 4190M1049 4160 1012 4190"/></g>
<path d="M972 4070V4200M1057 4060V4200" stroke="#8a4a48" stroke-width="5"/>
<g fill="none" stroke="#8e8e90"><path d="M921 4115V4083L966 4077M921 4100 966 4090M1059 4056 1106 4087V4112M1059 4075 1106 4100"/><path d="M926 4198 969 4175M1059 4173 1107 4200 1109 4230M1059 4190 1109 4215"/></g>
<polygon points="949,4250 971,4197 1029,4177 1110,4232 1049,4263 1012,4267" fill="#a5504e"/>
<g fill="none" stroke="#434042" stroke-width="6"><path d="M982 4260V4305M1046 4260V4305M982 4265 1046 4305M1046 4265 982 4305"/></g>
</g>
</g>
<rect x="810" y="3528.5" width="286" height="41.5" rx="5" fill="#58585a"/><rect x="1100.5" y="3528.5" width="41" height="41.5" rx="5" fill="#58585a"/>
<g transform="translate(823 3541)"><path d="M0 20 24 0 25 20M10 9 58 3M18 11 58 6" fill="none" stroke="#fff" stroke-width="1"/><text x="6" y="20" font-size="13" font-weight="700" font-style="italic" fill="#fff" textLength="52" lengthAdjust="spacingAndGlyphs">МАЯК</text></g>
<path d="M1036 3546H1084M1036 3553H1084" stroke="#fff" stroke-width="1.5"/><use href="#ph" x="1120" y="3550"/>
<g fill="#0e0e0e" font-size="32" stroke="#0e0e0e" stroke-width=".4">
<text x="810" y="3638" textLength="282" lengthAdjust="spacingAndGlyphs">От школы до атомной</text>
<text x="810" y="3667" textLength="271" lengthAdjust="spacingAndGlyphs">станции — выберите</text>
<text x="810" y="3696" textLength="127" lengthAdjust="spacingAndGlyphs">свой кран</text>
</g>
<g fill="#69696c" font-size="18">
<text x="810" y="3728" textLength="265" lengthAdjust="spacingAndGlyphs">При необходимости — приедем на</text>
<text x="810" y="3748" textLength="273" lengthAdjust="spacingAndGlyphs">площадку, оценим условия и дадим</text>
<text x="810" y="3768" textLength="209" lengthAdjust="spacingAndGlyphs">конкретные рекомендации.</text>
</g>
<rect x="809" y="4199" width="231" height="51" rx="4" fill="#fff"/>
<text x="830.5" y="4231" font-size="17" fill="#111" textLength="125" lengthAdjust="spacingAndGlyphs">Заказать звонок</text>
<line x1="983.5" y1="4209" x2="983.5" y2="4240" stroke="#ddd"/><path d="M1004 4224H1019M1013 4219 1019 4224 1013 4229" fill="none" stroke="#555" stroke-width="1.2"/>

<!-- PHONE 6 -->
<use href="#frame" x="1101" y="3182"/>
<g clip-path="url(#c6)">
<rect x="1308" y="3490" width="376" height="812" fill="#0a0a0a"/>
<rect x="1308" y="3960" width="376" height="342" fill="url(#p6red)"/>
<polygon points="1391,3767 1443,3683 1586,3648 1585,3703" fill="#e0281c" filter="url(#b22)"/>
<path d="M1311 3732 1415 3705M1311 3743 1385 3723M1311 3753 1385 3735M1318 3730V3760M1380 3712V3737" stroke="#7a5650" stroke-width="1.5" fill="none"/>
<polygon points="1310,3837 1471,3790 1471,3800 1310,3843" fill="#222"/>
<polygon points="1348,3800 1401,3787 1405,3790 1352,3803" fill="#c4c4c4"/>
<polygon points="1310,3800 1325,3796 1312,3815 1310,3815" fill="#c4c4c4"/>
<polygon points="1310,3792 1581,3720 1581,3728 1468,3760 1310,3810" fill="#1c1c1c"/>
<polygon points="1310,3815 1440,3780 1320,3825" fill="#141414"/>
<polygon points="1438,3817 1471,3798 1471,3807 1445,3818" fill="#ddd"/>
<line x1="1445" y1="3819" x2="1475" y2="3810" stroke="#e84a34"/>
<polygon points="1590,3722 1636,3740 1636,3763 1600,3762" fill="#c4c4c4"/>
<polygon points="1615,3703 1636,3699 1635,3763 1620,3765" fill="#dcdcdc"/>
<polygon points="1636,3740 1671,3763 1651,3767" fill="#cfcfcf"/>
<path d="M1600 3776 1645 3767M1651 3768 1672 3763M1636 3703 1640 3700" stroke="#ea4a34" fill="none"/>
<path d="M1588 3680 1612 3700M1586 3693 1606 3710M1612 3700 1612 3740" stroke="#9a9a9a" fill="none"/>
<polygon points="1471,3753 1575,3732 1600,3753 1600,3800 1586,3780 1478,3807" fill="url(#blk)"/>
<g stroke="#3a1210" stroke-width="1"><line x1="1486" y1="3750" x2="1491" y2="3803"/><line x1="1505" y1="3746" x2="1510" y2="3798"/><line x1="1526" y1="3741" x2="1531" y2="3793"/><line x1="1546" y1="3737" x2="1551" y2="3789"/><line x1="1564" y1="3733" x2="1569" y2="3785"/></g>
<polygon points="1475,3807 1586,3780 1600,3800 1495,3827" fill="#111"/>
<polygon points="1391,3767 1443,3683 1586,3648 1585,3703" fill="#dc3024"/>
<g fill="#ffd5c5">
<polygon points="1387,3697 1428,3686 1447,3681 1590,3640 1592,3646 1450,3690 1390,3704"/>
<polygon points="1447,3678 1590,3658 1592,3664 1450,3688"/>
<rect x="1436" y="3670" width="7" height="38"/>
<polygon points="1360,3773 1430,3690 1440,3692 1375,3775"/>
<polygon points="1360,3773 1593,3703 1596,3707 1388,3767 1371,3775"/>
<polygon points="1560,3700 1593,3668 1585,3708 1575,3700"/>
</g>
<text transform="translate(1393 3754) rotate(-16) skewX(-22)" font-size="42" font-weight="700" fill="#ffd5c5" textLength="190" lengthAdjust="spacingAndGlyphs">МАЯК</text>
</g>
<rect x="1329" y="3528.5" width="286" height="41.5" rx="4" fill="#141414"/><rect x="1620" y="3528.5" width="41" height="41.5" rx="4" fill="#141414"/>
<g transform="translate(1342 3541)"><path d="M0 20 24 0 25 20M10 9 58 3M18 11 58 6" fill="none" stroke="#fff" stroke-width="1"/><text x="6" y="20" font-size="13" font-weight="700" font-style="italic" fill="#fff" textLength="52" lengthAdjust="spacingAndGlyphs">МАЯК</text></g>
<path d="M1555 3546H1603M1555 3553H1603" stroke="#fff" stroke-width="1.5"/><use href="#ph" x="1639" y="3550"/>
<g fill="#e2e2e2" font-size="13">
<text x="1330" y="3940.5" textLength="64" lengthAdjust="spacingAndGlyphs">Навигация:</text>
<text x="1506.5" y="3940.5" textLength="57" lengthAdjust="spacingAndGlyphs">Контакты:</text>
</g>
<g fill="#8e8e8e" font-size="13.5">
<text x="1330" y="3972" textLength="68" lengthAdjust="spacingAndGlyphs">О компании</text>
<text x="1330" y="3993" textLength="38" lengthAdjust="spacingAndGlyphs">Услуги</text>
<text x="1330" y="4014.5" textLength="45" lengthAdjust="spacingAndGlyphs">Каталог</text>
<text x="1330" y="4035.5" textLength="69" lengthAdjust="spacingAndGlyphs">База знаний</text>
<text x="1330" y="4057" textLength="55" lengthAdjust="spacingAndGlyphs">Контакты</text>
<text x="1506.5" y="3972" textLength="93" lengthAdjust="spacingAndGlyphs">+7 812 294 97 15</text>
<text x="1506.5" y="3993" textLength="93" lengthAdjust="spacingAndGlyphs">+7 911 230 07 07</text>
<text x="1506.5" y="4014.5" textLength="120" lengthAdjust="spacingAndGlyphs">info@krancompany.ru</text>
<text x="1506.5" y="4035.5" textLength="100.5" lengthAdjust="spacingAndGlyphs">info@kb-mayak.ru</text>
</g>
<g fill="#fff" font-size="24">
<text x="1330" y="4119.5" textLength="259" lengthAdjust="spacingAndGlyphs">Центральный офис: Санкт-</text>
<text x="1330" y="4145" textLength="275" lengthAdjust="spacingAndGlyphs">Петербург, ул. Ватутина д.24</text>
<text x="1330" y="4182" textLength="284" lengthAdjust="spacingAndGlyphs">Завод: Запорожская область,</text>
<text x="1330" y="4207" textLength="255" lengthAdjust="spacingAndGlyphs">г. Бердянск, ул. Горького, 7</text>
</g>
<g fill="#8a8a8a" font-size="15">
<text x="1330" y="4263" textLength="182" lengthAdjust="spacingAndGlyphs">Политика конфиденциальности</text>
<text x="1632" y="4263" textLength="28" lengthAdjust="spacingAndGlyphs">2025</text>
</g>
</svg>
</body></html>
